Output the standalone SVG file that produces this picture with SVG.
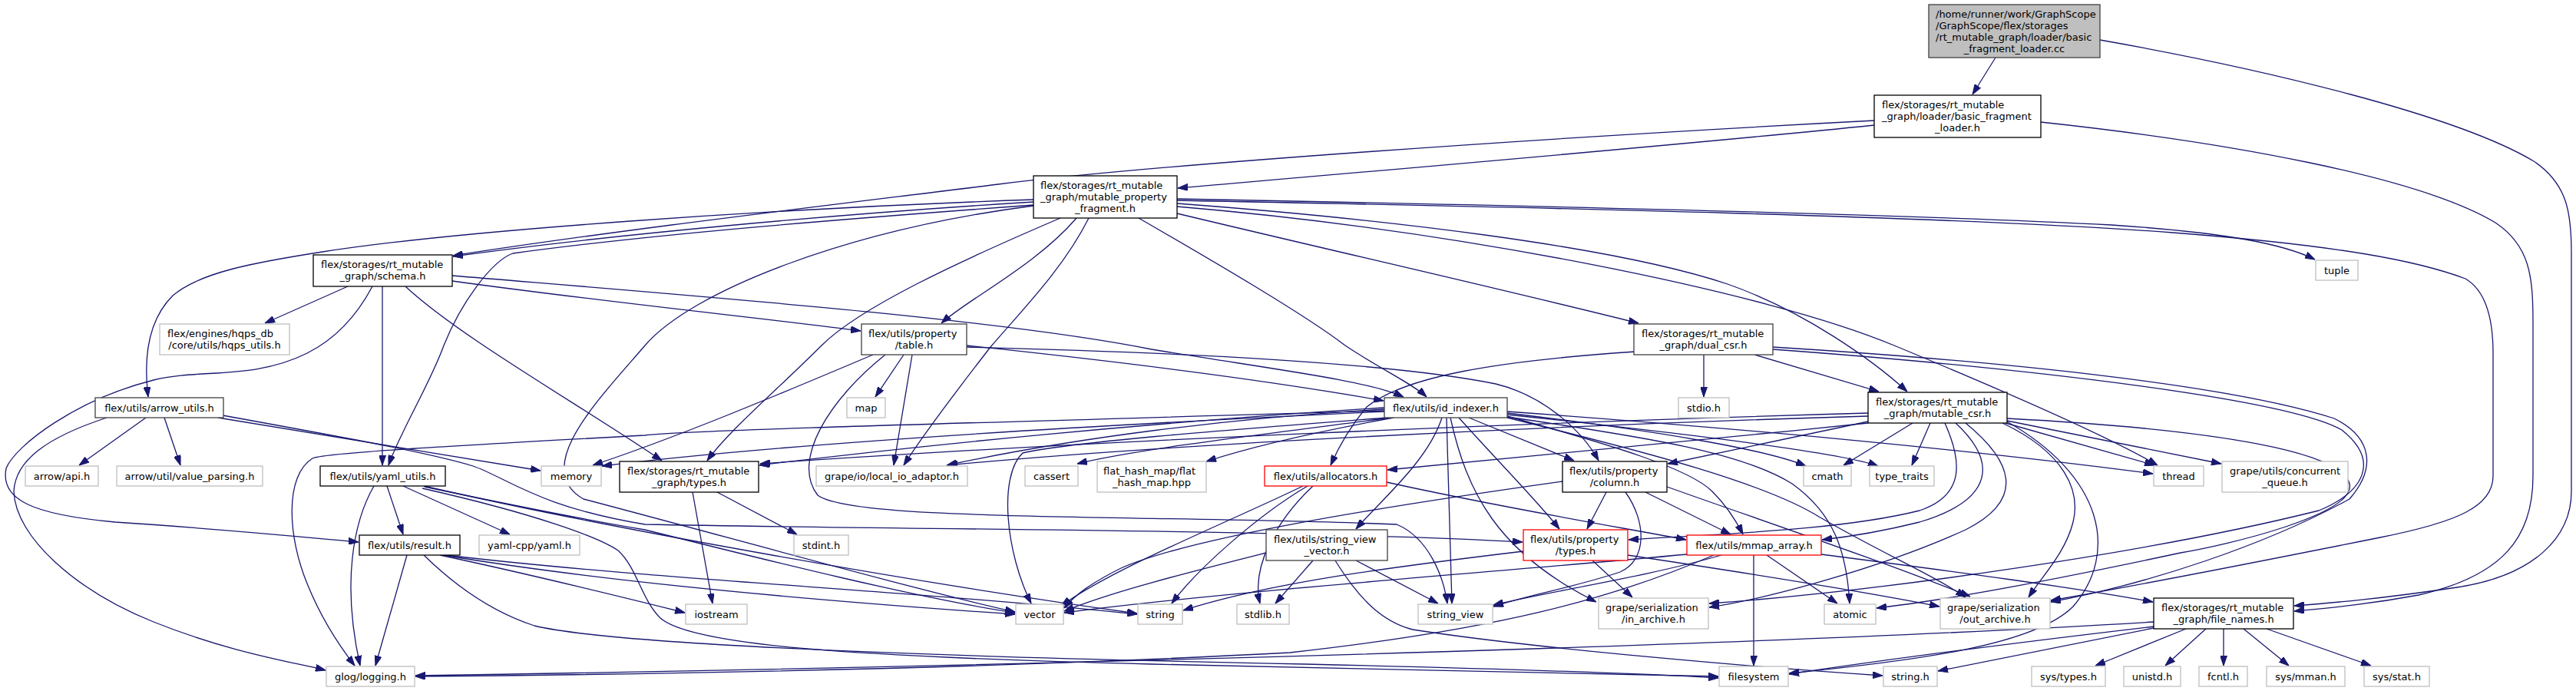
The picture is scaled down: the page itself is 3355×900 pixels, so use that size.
<svg xmlns="http://www.w3.org/2000/svg" width="3355" height="900" viewBox="0 0 3355 900">
<style>
.n rect{fill:#fff;stroke:#000;stroke-width:1.3}
.d rect{stroke:#404040}
.g rect{stroke:#bfbfbf}
.r rect{stroke:#ff0000}
.root rect{fill:#bfbfbf;stroke:#404040}
text{font-family:"DejaVu Sans",sans-serif;font-size:13px;fill:#000}
.c{text-anchor:middle}
.l{text-anchor:start}
#edges path{fill:none;stroke:#191970;stroke-width:1.3;marker-end:url(#ah)}
</style>
<defs>
<marker id="ah" viewBox="0 0 13 9" refX="13" refY="4.5" markerWidth="13" markerHeight="9" markerUnits="userSpaceOnUse" orient="auto"><path d="M0,0L13,4.5L0,9z" fill="#191970" stroke="#191970" stroke-width="1"/></marker>
</defs>
<rect width="3355" height="900" fill="#fff"/>
<g id="edges">
<path d="M2599,75 L2569,123"/>
<path d="M2735,52 C2950,90 3200,150 3300,210 C3345,240 3349,280 3349,330 L3349,640 C3349,700 3300,750 3200,765 C3100,780 3040,785 2988,789"/>
<path d="M2658,159 C2900,185 3150,230 3250,290 C3295,320 3299,360 3299,420 L3299,620 C3299,700 3260,750 3150,775 C3080,788 3030,792 2988,796"/>
<path d="M2441,163 C2200,188 1800,222 1534,245"/>
<path d="M2441,157 C2000,180 1500,215 1300,240 C1100,265 800,300 590,333"/>
<path d="M1346,263 C1100,278 800,305 590,334"/>
<path d="M1346,260 C1000,272 600,300 420,328 C330,342 260,355 225,385 C195,415 186,460 193,517"/>
<path d="M1346,267 C1100,285 850,305 668,330 C640,340 600,395 578,450 C560,500 520,565 506,606"/>
<path d="M1402,284 C1350,345 1260,390 1226,421"/>
<path d="M1381,284 C1250,340 1120,400 1070,450 C1010,510 950,560 921,600"/>
<path d="M1418,284 C1385,350 1330,405 1290,452 C1245,510 1200,570 1177,606"/>
<path d="M1483,284 C1580,340 1700,410 1752,450 C1800,482 1840,500 1858,517"/>
<path d="M1533,278 C1750,330 1950,375 2134,421"/>
<path d="M1533,265 C1800,285 2100,320 2250,370 C2350,405 2440,470 2484,510"/>
<path d="M1533,269 C1900,300 2300,380 2467,450 C2600,505 2740,565 2810,606"/>
<path d="M1533,259 C2000,268 2500,280 2750,293 C2900,303 2975,318 3015,338"/>
<path d="M1533,261 C2000,270 2550,282 2830,303 C3050,320 3150,340 3211,363 C3240,380 3247,420 3247,460 L3247,620 C3247,660 3200,680 3100,700 C2950,730 2800,760 2671,782"/>
<path d="M1346,268 C1100,300 900,380 840,450 C780,520 690,610 760,650 C950,700 1200,770 1322,797"/>
<path d="M453,373 L345,421"/>
<path d="M485,373 C460,420 430,445 400,460 C330,495 260,480 200,495 C100,520 20,580 8,610 C0,650 40,670 150,680 C300,690 400,700 467,706"/>
<path d="M498,373 L498,606"/>
<path d="M528,373 C600,440 760,530 862,600"/>
<path d="M589,366 C800,395 1000,415 1121,431"/>
<path d="M589,359 C900,385 1300,415 1500,455 C1650,480 1780,495 1828,517"/>
<path d="M1259,450 C1450,470 1650,495 1802,522"/>
<path d="M1259,452 C1500,458 1800,470 1948,500 C2010,515 2060,560 2082,600"/>
<path d="M1177,462 L1140,517"/>
<path d="M1188,462 L1164,606"/>
<path d="M1137,462 C1000,520 880,570 772,606"/>
<path d="M1153,462 C1080,520 1030,600 1065,645 C1110,680 1500,670 1819,683 C1860,700 1880,750 1885,786"/>
<path d="M190,544 L103,606"/>
<path d="M214,544 L235,606"/>
<path d="M139,544 C60,570 20,600 18,640 C20,700 100,770 200,810 C300,850 380,862 424,873"/>
<path d="M284,544 C450,570 600,595 704,613"/>
<path d="M290,541 C450,570 560,590 616,607 C660,622 700,660 840,683 C1200,690 1700,690 1983,706"/>
<path d="M487,633 C460,680 445,760 469,867"/>
<path d="M504,633 L525,696"/>
<path d="M525,633 L664,696"/>
<path d="M552,633 C800,690 1200,760 1481,799"/>
<path d="M553,634 C700,665 780,680 840,690 C1000,730 1200,780 1322,798"/>
<path d="M550,636 C700,670 780,700 805,717 C830,740 835,780 860,805 C900,840 1100,855 1500,865 C1900,875 2100,878 2238,881"/>
<path d="M530,723 L489,867"/>
<path d="M573,723 C700,750 820,780 892,798"/>
<path d="M577,723 C800,760 1100,785 1322,800"/>
<path d="M581,723 C850,755 1200,770 1481,800"/>
<path d="M552,723 C600,770 650,800 696,815 C800,840 1200,855 1700,865 C2000,872 2150,878 2238,883"/>
<path d="M902,641 L928,786"/>
<path d="M934,641 L1038,696"/>
<path d="M1803,531 C1500,550 1200,580 989,606"/>
<path d="M1803,533 C1600,545 1400,570 1233,606"/>
<path d="M1812,544 C1650,565 1480,585 1403,604"/>
<path d="M1815,544 C1700,565 1620,585 1571,601"/>
<path d="M1803,536 C1400,555 1000,580 784,607"/>
<path d="M1803,535 C1300,550 900,560 840,567 C600,580 420,590 407,597 C370,620 375,700 400,760 C420,810 445,845 462,867"/>
<path d="M1806,544 C1600,560 1400,575 1332,590 C1300,620 1310,720 1343,786"/>
<path d="M1878,544 C1860,600 1800,650 1766,689"/>
<path d="M1884,544 L1891,786"/>
<path d="M1889,544 C1910,640 1950,720 2079,784"/>
<path d="M1900,544 C1950,600 2000,650 2031,689"/>
<path d="M1913,544 L2050,600"/>
<path d="M1963,538 C2150,560 2300,585 2352,607"/>
<path d="M1963,540 C2200,565 2400,590 2446,607"/>
<path d="M1963,542 C2100,580 2200,610 2230,640 C2250,660 2262,680 2270,696"/>
<path d="M1963,543 C2150,570 2270,590 2334,630 C2390,670 2405,720 2409,786"/>
<path d="M1963,544 C2150,590 2300,630 2369,673 C2450,720 2520,750 2560,778"/>
<path d="M1963,536 C2300,560 2600,590 2804,617"/>
<path d="M2219,462 L2219,517"/>
<path d="M2285,462 L2447,510"/>
<path d="M2130,458 C1950,470 1830,490 1780,530 C1755,560 1740,590 1733,606"/>
<path d="M2309,452 C2600,470 2900,500 3040,545 C3090,570 3095,610 3060,650 C2950,710 2800,760 2671,784"/>
<path d="M2309,455 C2650,480 2980,520 3050,560 C3100,600 3080,640 3020,665 C2800,720 2450,770 2226,786"/>
<path d="M2491,551 L2401,606"/>
<path d="M2514,551 L2490,606"/>
<path d="M2533,551 C2555,600 2560,645 2500,665 C2400,690 2250,695 2121,703"/>
<path d="M2547,551 C2600,600 2600,650 2500,680 C2440,695 2400,700 2373,703"/>
<path d="M2560,551 C2620,600 2640,650 2560,690 C2450,740 2300,780 2226,791"/>
<path d="M2608,551 C2690,590 2710,640 2700,680 C2690,720 2660,750 2642,778"/>
<path d="M2612,548 C2740,620 2760,720 2700,790 C2650,840 2500,860 2330,877"/>
<path d="M2612,551 L2806,606"/>
<path d="M2614,548 L2893,604"/>
<path d="M2433,549 L2172,604"/>
<path d="M2433,551 C2200,575 1950,600 1807,612"/>
<path d="M2433,538 C2000,550 1400,575 990,604"/>
<path d="M2433,542 C2000,555 1500,580 1234,606"/>
<path d="M2614,545 C2900,560 3050,590 3060,630 C3070,670 2900,710 2840,720 C2700,750 2550,780 2444,792"/>
<path d="M2092,641 L2067,689"/>
<path d="M2143,641 L2254,696"/>
<path d="M2117,641 C2145,680 2145,730 2110,745 C2050,765 1990,775 1945,790"/>
<path d="M2035,627 C1800,660 1550,700 1460,740 C1420,760 1400,775 1386,792"/>
<path d="M2171,634 C2300,680 2450,730 2566,777"/>
<path d="M2074,730 L2126,778"/>
<path d="M1984,718 C1800,740 1650,760 1541,795"/>
<path d="M2120,723 C2300,750 2450,775 2526,790"/>
<path d="M2284,723 L2284,867"/>
<path d="M2301,723 L2393,786"/>
<path d="M2242,723 C2150,750 2020,770 1945,788"/>
<path d="M2232,723 C2100,780 1950,820 1680,850 C1300,870 900,878 541,881"/>
<path d="M2197,722 C1950,745 1600,770 1386,798"/>
<path d="M2372,722 C2550,745 2700,765 2804,784"/>
<path d="M1766,730 L1873,786"/>
<path d="M1739,730 C1770,780 1800,810 1840,820 C2000,845 2300,870 2452,880"/>
<path d="M1649,720 C1550,745 1450,770 1386,796"/>
<path d="M1710,730 L1661,786"/>
<path d="M1697,633 C1600,680 1450,740 1382,789"/>
<path d="M1703,633 C1640,670 1560,740 1526,786"/>
<path d="M1710,633 C1660,680 1630,740 1641,786"/>
<path d="M1806,628 C1950,660 2100,685 2196,703"/>
<path d="M2847,819 L2729,867"/>
<path d="M2873,819 L2820,867"/>
<path d="M2896,819 L2896,867"/>
<path d="M2922,819 L2981,867"/>
<path d="M2952,819 L3088,867"/>
<path d="M2805,818 L2524,874"/>
<path d="M2805,816 C2600,840 2450,860 2330,878"/>
<path d="M2805,810 C2400,835 1500,865 541,880"/>
</g>
<g id="n_root" class="n root"><rect x="2512" y="6" width="223" height="69"/><text class="l" x="2521" y="23">/home/runner/work/GraphScope</text><text class="l" x="2521" y="38">/GraphScope/flex/storages</text><text class="l" x="2521" y="53">/rt_mutable_graph/loader/basic</text><text class="c" x="2623.5" y="68">_fragment_loader.cc</text></g>
<g id="n_loader" class="n"><rect x="2441" y="124" width="217" height="55"/><text class="l" x="2451" y="141">flex/storages/rt_mutable</text><text class="l" x="2451" y="156">_graph/loader/basic_fragment</text><text class="c" x="2549.5" y="171">_loader.h</text></g>
<g id="n_mpf" class="n"><rect x="1346" y="229" width="187" height="55"/><text class="l" x="1355" y="246">flex/storages/rt_mutable</text><text class="l" x="1355" y="261">_graph/mutable_property</text><text class="c" x="1439.5" y="276">_fragment.h</text></g>
<g id="n_schema" class="n"><rect x="408" y="332" width="181" height="41"/><text class="l" x="418" y="349">flex/storages/rt_mutable</text><text class="c" x="498.5" y="364">_graph/schema.h</text></g>
<g id="n_hqps" class="n g"><rect x="208" y="422" width="169" height="40"/><text class="l" x="218" y="439">flex/engines/hqps_db</text><text class="c" x="292.5" y="454">/core/utils/hqps_utils.h</text></g>
<g id="n_arrow_utils" class="n d"><rect x="124" y="518" width="167" height="26"/><text class="c" x="207.5" y="535.5">flex/utils/arrow_utils.h</text></g>
<g id="n_arrow_api" class="n g"><rect x="33" y="607" width="95" height="26"/><text class="c" x="80.5" y="624.5">arrow/api.h</text></g>
<g id="n_value_parsing" class="n g"><rect x="152" y="607" width="190" height="26"/><text class="c" x="247" y="624.5">arrow/util/value_parsing.h</text></g>
<g id="n_memory" class="n g"><rect x="705" y="607" width="78" height="26"/><text class="c" x="744" y="624.5">memory</text></g>
<g id="n_yaml_utils" class="n"><rect x="417" y="607" width="163" height="26"/><text class="c" x="498.5" y="624.5">flex/utils/yaml_utils.h</text></g>
<g id="n_result" class="n"><rect x="468" y="697" width="131" height="26"/><text class="c" x="533.5" y="714.5">flex/utils/result.h</text></g>
<g id="n_yamlcpp" class="n g"><rect x="624" y="697" width="131" height="26"/><text class="c" x="689.5" y="714.5">yaml-cpp/yaml.h</text></g>
<g id="n_glog" class="n g"><rect x="425" y="868" width="115" height="26"/><text class="c" x="482.5" y="885.5">glog/logging.h</text></g>
<g id="n_types_rt" class="n"><rect x="807" y="601" width="181" height="40"/><text class="l" x="817" y="618">flex/storages/rt_mutable</text><text class="c" x="897.5" y="633">_graph/types.h</text></g>
<g id="n_table" class="n d"><rect x="1122" y="422" width="137" height="40"/><text class="l" x="1131" y="439">flex/utils/property</text><text class="c" x="1190.5" y="454">/table.h</text></g>
<g id="n_map" class="n g"><rect x="1103" y="518" width="50" height="26"/><text class="c" x="1128" y="535.5">map</text></g>
<g id="n_local_io" class="n g"><rect x="1063" y="607" width="197" height="26"/><text class="c" x="1161.5" y="624.5">grape/io/local_io_adaptor.h</text></g>
<g id="n_id_indexer" class="n d"><rect x="1803" y="518" width="160" height="26"/><text class="c" x="1883" y="535.5">flex/utils/id_indexer.h</text></g>
<g id="n_cassert" class="n g"><rect x="1335" y="607" width="69" height="26"/><text class="c" x="1369.5" y="624.5">cassert</text></g>
<g id="n_flat_hash_map" class="n g"><rect x="1429" y="601" width="142" height="40"/><text class="l" x="1437" y="618">flat_hash_map/flat</text><text class="c" x="1500" y="633">_hash_map.hpp</text></g>
<g id="n_allocators" class="n r"><rect x="1647" y="607" width="159" height="26"/><text class="c" x="1726.5" y="624.5">flex/utils/allocators.h</text></g>
<g id="n_svv" class="n d"><rect x="1649" y="690" width="158" height="40"/><text class="l" x="1659" y="707">flex/utils/string_view</text><text class="c" x="1728" y="722">_vector.h</text></g>
<g id="n_stdint" class="n g"><rect x="1034" y="697" width="71" height="26"/><text class="c" x="1069.5" y="714.5">stdint.h</text></g>
<g id="n_iostream" class="n g"><rect x="893" y="787" width="80" height="26"/><text class="c" x="933" y="804.5">iostream</text></g>
<g id="n_vector" class="n g"><rect x="1323" y="787" width="62" height="26"/><text class="c" x="1354" y="804.5">vector</text></g>
<g id="n_string" class="n g"><rect x="1482" y="787" width="58" height="26"/><text class="c" x="1511" y="804.5">string</text></g>
<g id="n_stdlib" class="n g"><rect x="1611" y="787" width="68" height="26"/><text class="c" x="1645" y="804.5">stdlib.h</text></g>
<g id="n_column" class="n"><rect x="2035" y="601" width="136" height="40"/><text class="l" x="2044" y="618">flex/utils/property</text><text class="c" x="2103" y="633">/column.h</text></g>
<g id="n_ptypes" class="n r"><rect x="1984" y="690" width="136" height="40"/><text class="l" x="1993" y="707">flex/utils/property</text><text class="c" x="2052" y="722">/types.h</text></g>
<g id="n_mmap" class="n r"><rect x="2197" y="697" width="175" height="26"/><text class="c" x="2284.5" y="714.5">flex/utils/mmap_array.h</text></g>
<g id="n_string_view" class="n g"><rect x="1847" y="787" width="97" height="26"/><text class="c" x="1895.5" y="804.5">string_view</text></g>
<g id="n_in_archive" class="n g"><rect x="2082" y="779" width="143" height="40"/><text class="l" x="2091" y="796">grape/serialization</text><text class="c" x="2153.5" y="811">/in_archive.h</text></g>
<g id="n_atomic" class="n g"><rect x="2376" y="787" width="67" height="26"/><text class="c" x="2409.5" y="804.5">atomic</text></g>
<g id="n_filesystem" class="n g"><rect x="2239" y="868" width="90" height="26"/><text class="c" x="2284" y="885.5">filesystem</text></g>
<g id="n_string_h" class="n g"><rect x="2453" y="868" width="70" height="26"/><text class="c" x="2488" y="885.5">string.h</text></g>
<g id="n_dual_csr" class="n d"><rect x="2128" y="422" width="181" height="40"/><text class="l" x="2138" y="439">flex/storages/rt_mutable</text><text class="c" x="2218.5" y="454">_graph/dual_csr.h</text></g>
<g id="n_stdio" class="n g"><rect x="2186" y="518" width="66" height="26"/><text class="c" x="2219" y="535.5">stdio.h</text></g>
<g id="n_mutable_csr" class="n"><rect x="2433" y="511" width="181" height="40"/><text class="l" x="2443" y="528">flex/storages/rt_mutable</text><text class="c" x="2523.5" y="543">_graph/mutable_csr.h</text></g>
<g id="n_cmath" class="n g"><rect x="2349" y="607" width="62" height="26"/><text class="c" x="2380" y="624.5">cmath</text></g>
<g id="n_type_traits" class="n g"><rect x="2435" y="607" width="84" height="26"/><text class="c" x="2477" y="624.5">type_traits</text></g>
<g id="n_thread" class="n g"><rect x="2805" y="607" width="65" height="26"/><text class="c" x="2837.5" y="624.5">thread</text></g>
<g id="n_concurrent_queue" class="n g"><rect x="2894" y="601" width="164" height="40"/><text class="l" x="2904" y="618">grape/utils/concurrent</text><text class="c" x="2976" y="633">_queue.h</text></g>
<g id="n_out_archive" class="n g"><rect x="2527" y="779" width="143" height="40"/><text class="l" x="2536" y="796">grape/serialization</text><text class="c" x="2598.5" y="811">/out_archive.h</text></g>
<g id="n_file_names" class="n"><rect x="2805" y="779" width="182" height="40"/><text class="l" x="2815" y="796">flex/storages/rt_mutable</text><text class="c" x="2896" y="811">_graph/file_names.h</text></g>
<g id="n_sys_types" class="n g"><rect x="2646" y="868" width="96" height="26"/><text class="c" x="2694" y="885.5">sys/types.h</text></g>
<g id="n_unistd" class="n g"><rect x="2766" y="868" width="74" height="26"/><text class="c" x="2803" y="885.5">unistd.h</text></g>
<g id="n_fcntl" class="n g"><rect x="2864" y="868" width="63" height="26"/><text class="c" x="2895.5" y="885.5">fcntl.h</text></g>
<g id="n_sys_mman" class="n g"><rect x="2952" y="868" width="102" height="26"/><text class="c" x="3003" y="885.5">sys/mman.h</text></g>
<g id="n_sys_stat" class="n g"><rect x="3079" y="868" width="85" height="26"/><text class="c" x="3121.5" y="885.5">sys/stat.h</text></g>
<g id="n_tuple" class="n g"><rect x="3016" y="339" width="55" height="26"/><text class="c" x="3043.5" y="356.5">tuple</text></g>
</svg>
